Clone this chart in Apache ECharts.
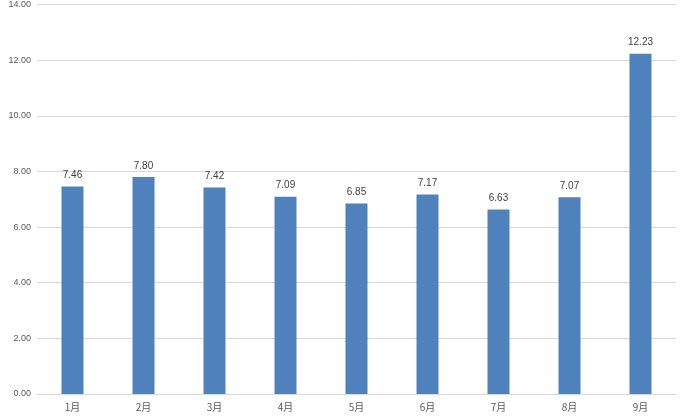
<!DOCTYPE html>
<html><head><meta charset="utf-8">
<script src="https://cdn.jsdelivr.net/npm/echarts@6/dist/echarts.min.js"></script>
<style>html,body{margin:0;padding:0;background:#fff}#c{width:680px;height:418px}</style>
</head><body><div id="c"></div>
<script>
const categories = ['1月','2月','3月','4月','5月','6月','7月','8月','9月'];
const values = [7.46, 7.80, 7.42, 7.09, 6.85, 7.17, 6.63, 7.07, 12.23];
const chart = echarts.init(document.getElementById('c'));
chart.setOption({
  animation: false,
  grid: {left: 37, right: 4, top: 4, bottom: 24},
  xAxis: {
    type: 'category', data: categories,
    axisLine: {lineStyle: {color: '#d9d9d9'}},
    axisTick: {show: false},
    axisLabel: {color: '#595959', fontSize: 10, fontFamily: 'Noto Sans CJK SC', margin: 8}
  },
  yAxis: {
    type: 'value', min: 0, max: 14, interval: 2,
    axisLine: {show: false}, axisTick: {show: false},
    splitLine: {lineStyle: {color: '#d9d9d9'}},
    axisLabel: {color: '#595959', fontSize: 9, formatter: v => v.toFixed(2), margin: 6}
  },
  series: [{
    type: 'bar', data: values, barWidth: '31%',
    itemStyle: {color: '#4f81bd'},
    label: {show: true, position: 'top', color: '#404040', fontSize: 10, formatter: p => p.value.toFixed(2), distance: 6}
  }]
});
</script></body></html>
